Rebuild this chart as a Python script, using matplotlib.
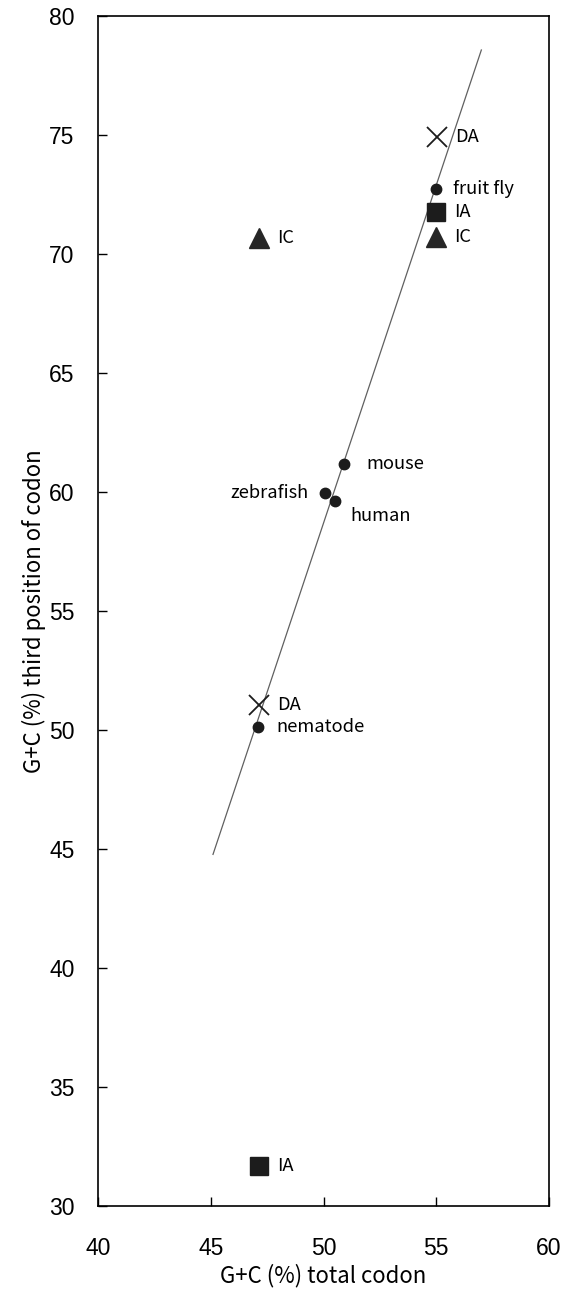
import numpy as np
import matplotlib
matplotlib.use("Agg")
import matplotlib.pyplot as plt

# ---- data ----
species = ["fruit fly", "mouse", "zebrafish", "human", "nematode"]
species_x = [54.99, 50.91, 50.07, 50.51, 47.10]
species_y = [72.73, 61.18, 59.96, 59.62, 50.13]

da_labels = ["DA", "DA"]
da_x = [55.03, 47.14]
da_y = [74.92, 51.05]

ia_labels = ["IA", "IA"]
ia_x = [54.99, 47.14]
ia_y = [71.76, 31.68]

ic_labels = ["IC", "IC"]
ic_x = [54.99, 47.14]
ic_y = [70.71, 70.67]

line_x_range = [45.1, 57.0]

x_ticks = [40, 45, 50, 55, 60]
y_ticks = [30, 35, 40, 45, 50, 55, 60, 65, 70, 75, 80]

# ---- styling ----
W, H, DPI = 577, 1298, 100
fig = plt.figure(figsize=(W / DPI, H / DPI), dpi=DPI)
ax = fig.add_axes([98 / W, 1 - 1206 / H, (549 - 98) / W, (1206 - 16) / H])

mk = "#1c1c1c"
lab_font = ["Noto Sans CJK JP", "DejaVu Sans"]
tick_font = "Liberation Sans"

# regression line fitted on species
slope, intercept = np.polyfit(species_x, species_y, 1)
lx = np.array(line_x_range)
ax.plot(lx, slope * lx + intercept, color="#606060", lw=0.9, zorder=1)

ax.plot(species_x, species_y, "o", ms=7.5, color=mk, zorder=3)
ax.plot(da_x, da_y, "x", ms=14, mew=1.3, color=mk, zorder=3)
ax.plot(ia_x, ia_y, "s", ms=13, color=mk, zorder=3)
ax.plot(ic_x, ic_y, "^", ms=14.5, color="#262626", zorder=3)

# label offsets (points)
species_off = [(12, 0), (16, 0), (-12, 0), (11, -11), (13, 0)]
species_ha = ["left", "left", "right", "left", "left"]
for name, x, y, off, ha in zip(species, species_x, species_y, species_off, species_ha):
    ax.annotate(name, (x, y), xytext=off, textcoords="offset points",
                ha=ha, va="center", fontsize=13.2, family=lab_font)
for lbls, xs, ys in [(da_labels, da_x, da_y), (ia_labels, ia_x, ia_y), (ic_labels, ic_x, ic_y)]:
    for name, x, y in zip(lbls, xs, ys):
        ax.annotate(name, (x, y), xytext=(13, 0), textcoords="offset points",
                    ha="left", va="center", fontsize=13.2, family=lab_font)

ax.set_xlim(40, 60)
ax.set_ylim(30, 80)
ax.set_xticks(x_ticks)
ax.set_yticks(y_ticks)
ax.tick_params(direction="in", length=6.5, width=1.0, labelsize=16.5)
ax.tick_params(axis="y", pad=17)
ax.tick_params(axis="x", pad=22)
for lbl in ax.get_xticklabels() + ax.get_yticklabels():
    lbl.set_family(tick_font)
for s in ax.spines.values():
    s.set_linewidth(1.2)

ax.set_xlabel("G+C (%) total codon", fontsize=16, family=lab_font, labelpad=3)
ax.set_ylabel("G+C (%) third position of codon", fontsize=16, family=lab_font, labelpad=2)

fig.savefig("out.png", dpi=DPI)
